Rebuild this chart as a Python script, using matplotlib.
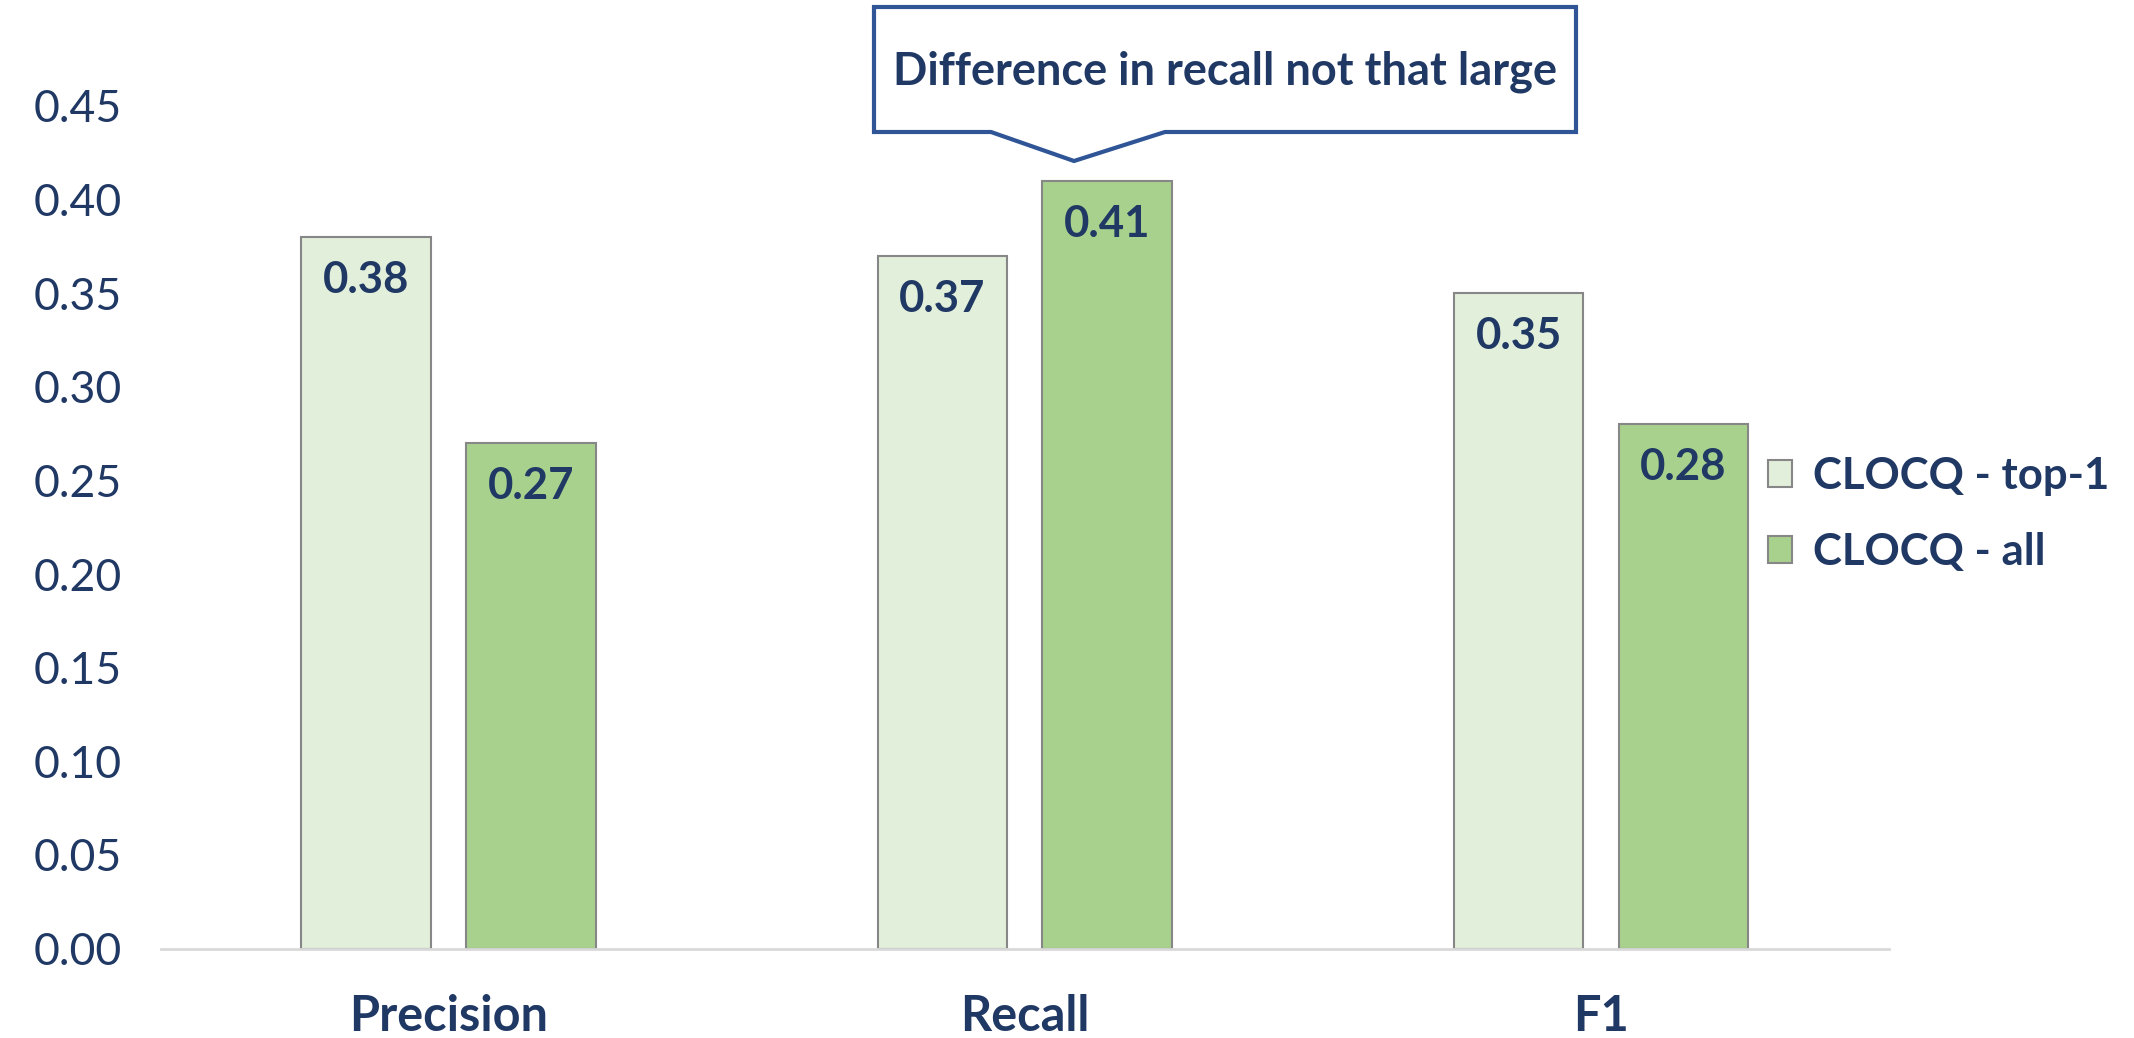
import matplotlib
matplotlib.use("Agg")
import matplotlib.pyplot as plt
from matplotlib.patches import Polygon
import numpy as np

# Data
categories = ["Precision", "Recall", "F1"]
series_names = ["CLOCQ - top-1", "CLOCQ - all"]
top1_values = [0.38, 0.37, 0.35]
all_values = [0.27, 0.41, 0.28]
y_ticks = [0.00, 0.05, 0.10, 0.15, 0.20, 0.25, 0.30, 0.35, 0.40, 0.45]
callout_text = "Difference in recall not that large"

NAVY = "#203864"
LIGHT_GREEN = "#E2EFDA"
GREEN = "#A9D18E"
EDGE = "#878787"
CALLOUT = "#2F5597"

plt.rcParams["font.family"] = ["Lato", "DejaVu Sans"]

W, H = 2134, 1038
fig = plt.figure(figsize=(W / 100, H / 100), dpi=100)
ax = fig.add_axes([160.6 / W, 1 - 948.6 / H, (1889 - 160.6) / W, (948.6 - 106) / H])

x = np.arange(len(categories))
width = 0.225
offset = 0.143
bars1 = ax.bar(x - offset, top1_values, width, color=LIGHT_GREEN, edgecolor=EDGE,
               linewidth=1.5, label=series_names[0], zorder=2)
bars2 = ax.bar(x + offset, all_values, width, color=GREEN, edgecolor=EDGE,
               linewidth=1.5, label=series_names[1], zorder=2)

for bars, vals in ((bars1, top1_values), (bars2, all_values)):
    for b, v in zip(bars, vals):
        ax.annotate(f"{v:.2f}", (b.get_x() + b.get_width() / 2, v),
                    xytext=(0, -31), textcoords="offset points",
                    ha="center", va="center", fontsize=31.5, fontweight="bold",
                    color=NAVY)

ax.set_xlim(-0.5, 2.5)
ax.set_ylim(0, 0.45)
ax.set_yticks(y_ticks)
ax.set_yticklabels([f"{t:.2f}" for t in y_ticks], fontsize=32, color=NAVY)
ax.set_xticks(x)
ax.set_xticklabels(categories, fontsize=35, fontweight="bold", color=NAVY)
ax.tick_params(axis="y", length=0, pad=28)
ax.tick_params(axis="x", length=0, pad=33)
for s in ("top", "right", "left"):
    ax.spines[s].set_visible(False)
ax.spines["bottom"].set_color("#D9D9D9")
ax.spines["bottom"].set_linewidth(2)

ax.legend(loc="center left", bbox_to_anchor=(1750 / W, 1 - 514 / H),
          bbox_transform=fig.transFigure, frameon=False,
          prop={"size": 31.5, "weight": "bold"}, labelcolor=NAVY,
          handlelength=0.55, handleheight=0.55, handletextpad=0.5,
          labelspacing=0.82, borderaxespad=0)

# Callout box with downward pointer
pts = [(874, 7), (1576, 7), (1576, 132), (1165, 132), (1074, 161),
       (991, 132), (874, 132)]
poly = Polygon([(px / W, 1 - py / H) for px, py in pts], closed=True,
               transform=fig.transFigure, facecolor="white", edgecolor=CALLOUT,
               linewidth=3, zorder=5)
fig.patches.append(poly)
fig.text(1225 / W, 1 - 72 / H, callout_text, ha="center", va="center",
         fontsize=32.5, fontweight="bold", color=NAVY, zorder=6)

fig.savefig("out.png", dpi=100, facecolor="white")
